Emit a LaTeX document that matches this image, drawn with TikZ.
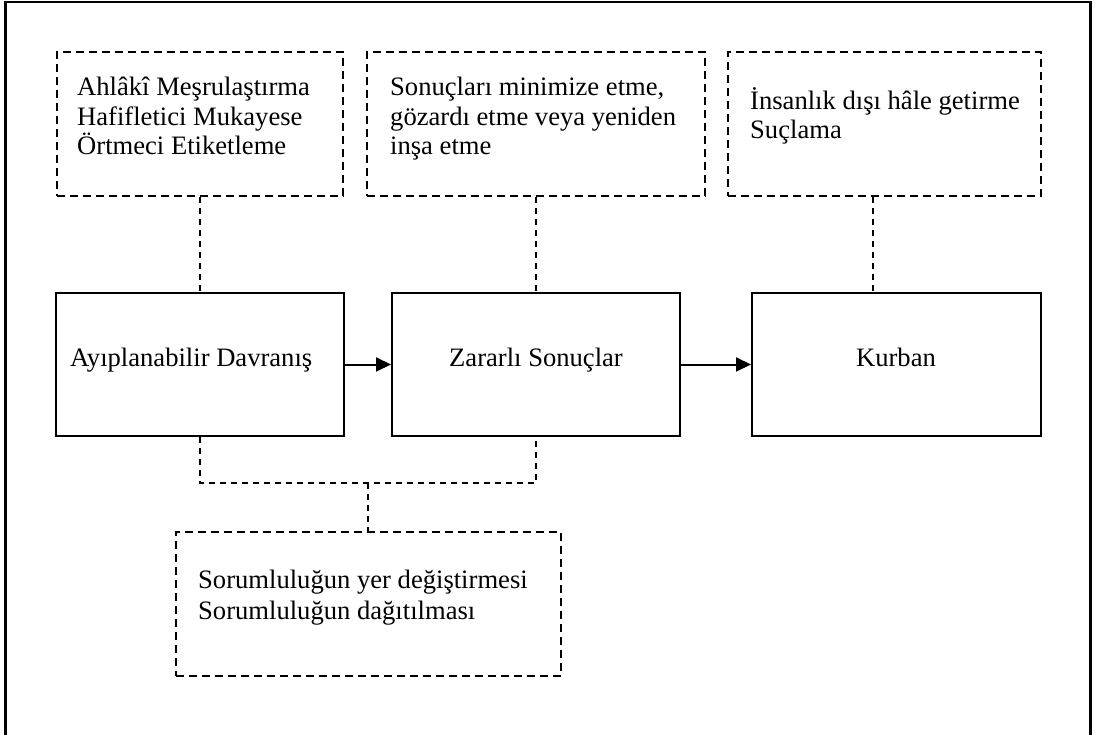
\documentclass[tikz,border=0pt]{standalone}
\usepackage{fontspec}
\setmainfont{Liberation Serif}
\usetikzlibrary{arrows.meta}
\tikzset{
  dbox/.style={draw, line width=2pt, dash pattern=on 8pt off 5pt, minimum height=144pt, inner sep=0pt},
  sbox/.style={draw, line width=2pt, minimum width=288pt, minimum height=143pt, inner sep=0pt},
  conn/.style={line width=1.6pt, dash pattern=on 6pt off 5pt},
  arr/.style={line width=2pt, -{Triangle[length=15pt,width=14pt]}},
  txt/.style={inner sep=0pt, font=\fontsize{26.6pt}{30pt}\selectfont}
}
\begin{document}
\begin{tikzpicture}[x=1pt,y=-1pt]
\useasboundingbox (0,0) rectangle (1095,735);
\clip (0,0) rectangle (1095,735);
% outer frame (bottom edge lies below the visible area)
\draw[line width=2.2pt] (5.5,760) -- (5.5,1.8) -- (1090.5,1.8) -- (1090.5,760);

% dashed boxes (top)
\node[dbox, minimum width=286pt] (d1) at (200,124) {};
\node[dbox, minimum width=338pt] (d2) at (536,124) {};
\node[dbox, minimum width=313pt] (d3) at (884.5,124) {};
% solid boxes
\node[sbox] (A) at (200,364.5) {};
\node[sbox] (B) at (536,364.5) {};
\node[sbox, minimum width=289pt] (C) at (896.5,364.5) {};
% bottom dashed box
\node[dbox, minimum width=385pt] (D) at (368.5,604) {};

% texts
\node[txt, anchor=base west] (t1a) at (77,96) {Ahlâkî Meşrulaştırma};
\node[txt, anchor=base west] (t1b) at (77,125.5) {Hafifletici Mukayese};
\node[txt, anchor=base west] (t1c) at (77,155) {Örtmeci Etiketleme};
\node[txt, anchor=base west] (t2a) at (390,96) {Sonuçları minimize etme,};
\node[txt, anchor=base west] (t2b) at (390,125.5) {gözardı etme veya yeniden};
\node[txt, anchor=base west] (t2c) at (390,155) {inşa etme};
\node[txt, anchor=base west] (t3a) at (750,110) {İnsanlık dışı hâle getirme};
\node[txt, anchor=base west] (t3b) at (750,139) {Suçlama};
\node[txt, anchor=base west] (tA) at (70,366) {Ayıplanabilir Davranış};
\node[txt, anchor=base] (tB) at (536,366) {Zararlı Sonuçlar};
\node[txt, anchor=base] (tC) at (896,366) {Kurban};
\node[txt, anchor=base west] (tDa) at (198,588) {Sorumluluğun yer değiştirmesi};
\node[txt, anchor=base west] (tDb) at (198,619) {Sorumluluğun dağıtılması};

% connectors
\coordinate (k) at (873,0);
\coordinate (j) at (368,483);
\draw[conn] (d1.south) -- (A.north);
\draw[conn] (d2.south) -- (B.north);
\draw[conn] (d3.south -| k) -- (C.north -| k);
\draw[conn] (A.south) |- (j) -| (B.south);
\draw[conn] (j) -- (j |- D.north);
\draw[arr] (A.east) -- (B.west);
\draw[arr] (B.east) -- (C.west);
\end{tikzpicture}
\end{document}
